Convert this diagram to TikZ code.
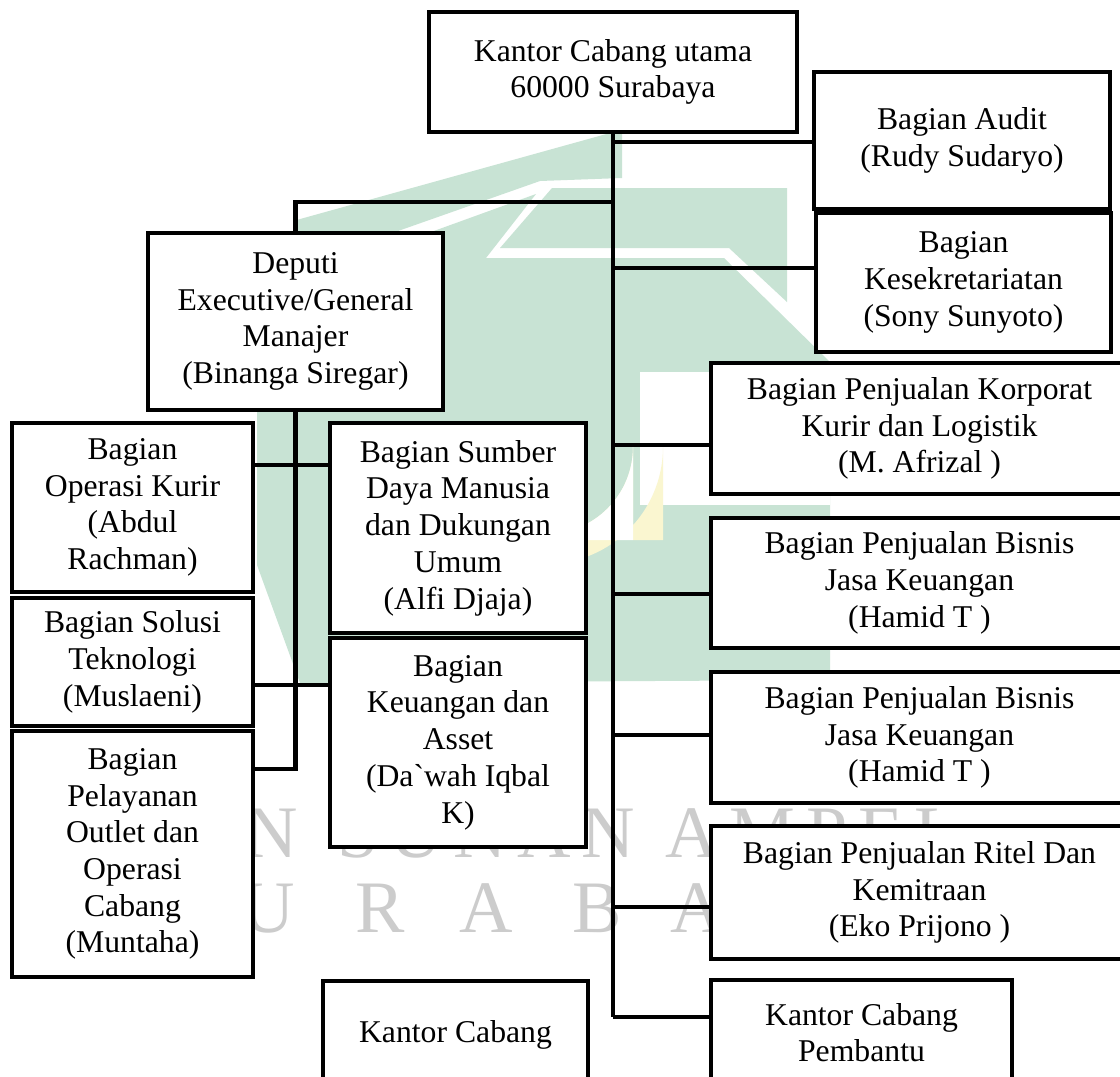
\documentclass[tikz,border=0pt]{standalone}
\usepackage{fontspec}
\setmainfont{Liberation Serif}[Ligatures=TeXOff]
\newcommand\orgfont{\fontsize{31.7pt}{36.7pt}\selectfont}
\newcommand\wmfont{\fontsize{74pt}{74pt}\selectfont}
\definecolor{wmgreen}{RGB}{200,227,212}
\definecolor{wmyellow}{RGB}{250,246,208}
\begin{document}
\begin{tikzpicture}[x=1pt,y=-1pt,
  box/.style={draw=black, line width=4.8pt, fill=white, align=center,
              inner sep=0pt, font=\orgfont},
  link/.style={draw=black, line width=4.6pt},
  wmletter/.style={text=black!20, font=\wmfont, inner sep=0pt, anchor=base west},
  wmletterc/.style={text=black!20, font=\wmfont, inner sep=0pt, anchor=base}]
\useasboundingbox (0,0) rectangle (1120,1077);
\clip (0,0) rectangle (1120,1077);
\fill[white] (0,0) rectangle (1120,1077);

% faint emblem in the background
\fill[wmgreen] (293,221) -- (610,133) -- (622,133) -- (622,178) -- (540,181) -- (293,268) -- cycle;
\fill[wmgreen] (552,188) -- (787,188) -- (787,302) -- (729,248) -- (500,248) -- cycle;
\fill[wmgreen] (257,400) -- (293,282) -- (536,194) -- (486,258) -- (724,258)
  -- (830,362) -- (830,680) -- (300,683) -- (257,565) -- cycle;
\fill[white] (640,372) -- (830,372) -- (830,505) -- (640,505) -- cycle;
\fill[wmyellow] (429,540) -- (429,447) arc[start angle=180, end angle=0, radius=117]
  -- (663,540) -- (633,540) -- (633,447) arc[start angle=0, end angle=180, radius=87]
  -- (459,540) -- cycle;
\fill[white] (459,540) -- (459,447) arc[start angle=180, end angle=0, radius=87]
  -- (633,540) -- cycle;

% faint background lettering
\foreach \c/\x [count=\i] in {N/244,S/337,U/389,N/453,A/517,N/581,A/665,M/729,P/806,E/858,L/914}
  \node[wmletter] (wmone\i) at (\x,857) {\c};
\foreach \c/\x [count=\i] in {U/268,R/380,A/486,B/597,A/697}
  \node[wmletterc] (wmtwo\i) at (\x,932) {\c};

% head office
\node[box, minimum width=368pt, minimum height=120pt] (top) at (613,72)
  {Kantor Cabang utama\\60000 Surabaya};

% right-hand column
\node[box, minimum width=296pt, minimum height=137pt] (audit) at (962,140.5)
  {Bagian Audit\\(Rudy Sudaryo)};
\node[box, minimum width=295pt, minimum height=139pt] (sekre) at (963.5,282.5)
  {Bagian\\Kesekretariatan\\(Sony Sunyoto)};
\node[box, minimum width=417pt, minimum height=131pt] (korp) at (919.5,428.5)
  {Bagian Penjualan Korporat\\Kurir dan Logistik\\(M. Afrizal )};
\node[box, minimum width=417pt, minimum height=130pt] (bisa) at (919.5,583)
  {Bagian Penjualan Bisnis\\Jasa Keuangan\\(Hamid T )};
\node[box, minimum width=417pt, minimum height=131pt] (bisb) at (919.5,737.5)
  {Bagian Penjualan Bisnis\\Jasa Keuangan\\(Hamid T )};
\node[box, minimum width=417pt, minimum height=133pt] (ritel) at (919.5,892.5)
  {Bagian Penjualan Ritel Dan\\Kemitraan\\(Eko Prijono )};
\node[box, minimum width=301pt, minimum height=105pt] (pemb) at (861.5,1032.5)
  {Kantor Cabang\\Pembantu};

% deputy and his divisions
\node[box, minimum width=295pt, minimum height=177pt] (deputi) at (295.5,321.5)
  {Deputi\\Executive/General\\Manajer\\(Binanga Siregar)};
\node[box, minimum width=241pt, minimum height=169pt] (kurir) at (132.5,507.5)
  {Bagian\\Operasi Kurir\\(Abdul\\Rachman)};
\node[box, minimum width=241pt, minimum height=128pt] (solusi) at (132.5,662)
  {Bagian Solusi\\Teknologi\\(Muslaeni)};
\node[box, minimum width=241pt, minimum height=246pt] (pelay) at (132.5,854)
  {Bagian\\Pelayanan\\Outlet dan\\Operasi\\Cabang\\(Muntaha)};
\node[box, minimum width=256pt, minimum height=210pt] (sdm) at (458,528)
  {Bagian Sumber\\Daya Manusia\\dan Dukungan\\Umum\\(Alfi Djaja)};
\node[box, minimum width=256pt, minimum height=209pt] (keu) at (458,742.5)
  {Bagian\\Keuangan dan\\Asset\\(Da`wah Iqbal\\K)};
\node[box, minimum width=265pt, minimum height=107pt] (kc) at (455.5,1034.5)
  {Kantor Cabang};

% junctions on the main trunk
\coordinate (jA) at (613,142);
\coordinate (jD) at (613,202);
\coordinate (jS) at (613,268);
\coordinate (jK) at (613,445);
\coordinate (jBa) at (613,594);
\coordinate (jBb) at (613,735);
\coordinate (jR) at (613,907);
\coordinate (jP) at (613,1017);

\draw[link] (top.south) -- (jP);
\draw[link] (jA) -- (jA -| audit.west);
\draw[link] (jD) -| (deputi.north);
\draw[link] (jS) -- (jS -| sekre.west);
\draw[link] (jK) -- (jK -| korp.west);
\draw[link] (jBa) -- (jBa -| bisa.west);
\draw[link] (jBb) -- (jBb -| bisb.west);
\draw[link] (jR) -- (jR -| ritel.west);
\draw[link] (jP) -- (jP -| pemb.west);

% deputy's own branch
\coordinate (dEnd) at (295.5,769);
\coordinate (cOne) at (295.5,465);
\coordinate (cTwo) at (295.5,685);
\draw[link] (deputi.south) -- (dEnd) -- (dEnd -| pelay.east);
\draw[link] (cOne -| kurir.east) -- (cOne -| sdm.west);
\draw[link] (cTwo -| solusi.east) -- (cTwo -| keu.west);
\end{tikzpicture}
\end{document}
